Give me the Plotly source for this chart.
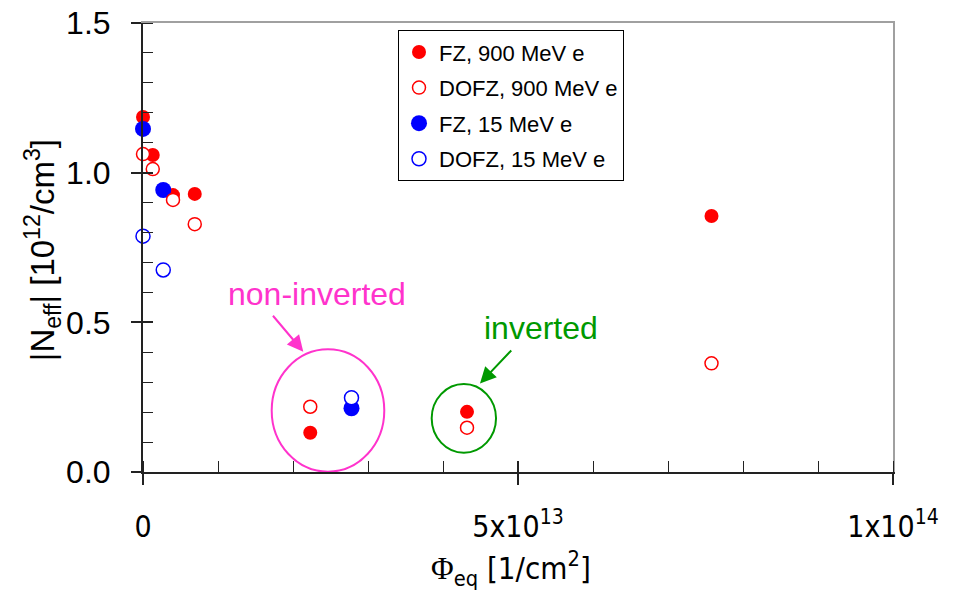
import plotly.graph_objects as go

# Fluence (1/cm^2) and |Neff| (1e12/cm^3) for each material / beam
fz900_phi = [0, 1.3e12, 4.0e12, 6.9e12, 2.23e13, 4.32e13, 7.58e13]
fz900_neff = [1.186, 1.059, 0.925, 0.929, 0.131, 0.201, 0.855]

dofz900_phi = [0, 1.3e12, 4.0e12, 6.9e12, 2.23e13, 4.32e13, 7.58e13]
dofz900_neff = [1.062, 1.012, 0.909, 0.828, 0.218, 0.148, 0.363]

fz15_phi = [0, 2.7e12, 2.78e13]
fz15_neff = [1.146, 0.942, 0.213]

dofz15_phi = [0, 2.7e12, 2.78e13]
dofz15_neff = [0.788, 0.675, 0.248]

x_tickvals = [0, 5e13, 1e14]
x_ticktext = ["0", "5x10<sup>13</sup>", "1x10<sup>14</sup>"]
y_tickvals = [0, 0.5, 1.0, 1.5]
y_ticktext = ["0.0", "0.5", "1.0", "1.5"]

RED = "#ff0000"
BLUE = "#0000ff"
PINK = "#ff33cc"
GREEN = "#009900"
NARROW = "Liberation Sans Narrow, DejaVu Sans Condensed, Liberation Sans, sans-serif"
SANS = "Liberation Sans, Arial, sans-serif"

fig = go.Figure()


def add_series(name, xs, ys, color, size, filled, rank):
    marker = dict(size=size, color=color if filled else "white",
                  line=dict(color=color, width=0 if filled else 1.5))
    fig.add_trace(go.Scatter(
        x=xs, y=ys, mode="markers", name=name, marker=marker,
        cliponaxis=False, legendrank=rank, legendgroup=name,
    ))


# drawing order: filled first, open (white-filled) markers on top
add_series("FZ, 900 MeV e", fz900_phi, fz900_neff, RED, 14, True, 1)
add_series("FZ, 15 MeV e", fz15_phi, fz15_neff, BLUE, 16, True, 3)
add_series("DOFZ, 900 MeV e", dofz900_phi, dofz900_neff, RED, 13, False, 2)
add_series("DOFZ, 15 MeV e", dofz15_phi, dofz15_neff, BLUE, 14, False, 4)

# helper traces so the overlay axes (frame and crossing ticks) are drawn
for xa, ya in (("x2", "y2"), ("x3", "y3")):
    fig.add_trace(go.Scatter(x=[None], y=[None], xaxis=xa, yaxis=ya,
                             showlegend=False, hoverinfo="skip"))

X_RANGE = [0, 1e14]
Y_RANGE = [0, 1.5]

fig.update_layout(
    width=955, height=593,
    margin=dict(l=143, r=62, t=23, b=121, autoexpand=False),
    paper_bgcolor="white", plot_bgcolor="white",
    showlegend=True,
    legend=dict(
        x=0.34, y=0.984, xanchor="left", yanchor="top",
        bordercolor="black", borderwidth=1, bgcolor="white",
        font=dict(family=SANS, size=22, color="black"),
        tracegroupgap=4, itemsizing="trace", itemwidth=30,
    ),
    xaxis=dict(
        range=X_RANGE, showgrid=False, zeroline=False, automargin=False,
        showline=True, linecolor="#222", linewidth=2,
        tickmode="array", tickvals=x_tickvals, ticktext=x_ticktext,
        ticks="outside", ticklen=11, tickwidth=1.5, tickcolor="#222",
        ticklabelstandoff=16,
        tickfont=dict(family=NARROW, size=30, color="black"),
        minor=dict(ticks="inside", dtick=1e13, tick0=0, ticklen=11,
                   tickwidth=1.2, tickcolor="#222"),
    ),
    yaxis=dict(
        range=Y_RANGE, showgrid=False, zeroline=False, automargin=False,
        showline=True, linecolor="#222", linewidth=2,
        tickmode="array", tickvals=y_tickvals, ticktext=y_ticktext,
        ticks="outside", ticklen=10, tickwidth=1.5, tickcolor="#222",
        ticklabelstandoff=14,
        tickfont=dict(family=SANS, size=32, color="black"),
        minor=dict(ticks="inside", dtick=0.1, tick0=0, ticklen=10,
                   tickwidth=1.2, tickcolor="#222"),
    ),
    # grey frame on top and right
    xaxis2=dict(range=X_RANGE, overlaying="x", side="top", anchor="y2",
                automargin=False,
                showline=True, linecolor="#a0a0a0", linewidth=2,
                showgrid=False, zeroline=False, ticks="", showticklabels=False),
    yaxis2=dict(range=Y_RANGE, overlaying="y", side="right", anchor="x2",
                automargin=False,
                showline=True, linecolor="#a0a0a0", linewidth=2,
                showgrid=False, zeroline=False, ticks="", showticklabels=False),
    # inner halves of the major ticks
    xaxis3=dict(range=X_RANGE, overlaying="x", side="bottom", anchor="y3",
                automargin=False,
                showline=False, showgrid=False, zeroline=False,
                tickmode="array", tickvals=x_tickvals, ticks="inside",
                ticklen=11, tickwidth=1.5, tickcolor="#222",
                showticklabels=False),
    yaxis3=dict(range=Y_RANGE, overlaying="y", side="left", anchor="x3",
                automargin=False,
                showline=False, showgrid=False, zeroline=False,
                tickmode="array", tickvals=y_tickvals, ticks="inside",
                ticklen=10, tickwidth=1.5, tickcolor="#222",
                showticklabels=False),
)

# regions marking non-inverted and inverted samples
fig.add_shape(type="circle", xref="x", yref="y",
              x0=1.716e13, x1=3.217e13, y0=0.001, y1=0.41,
              line=dict(color=PINK, width=2))
fig.add_shape(type="circle", xref="x", yref="y",
              x0=3.849e13, x1=4.707e13, y0=0.0645, y1=0.294,
              line=dict(color=GREEN, width=2))

# arrows pointing at the regions
fig.add_annotation(x=2.137e13, y=0.402, ax=1.716e13, ay=0.527,
                   xref="x", yref="y", axref="x", ayref="y", text="",
                   showarrow=True, arrowhead=2, arrowsize=1.6,
                   arrowwidth=2, arrowcolor=PINK)
fig.add_annotation(x=4.493e13, y=0.296, ax=4.929e13, ay=0.411,
                   xref="x", yref="y", axref="x", ayref="y", text="",
                   showarrow=True, arrowhead=2, arrowsize=1.6,
                   arrowwidth=2, arrowcolor=GREEN)

fig.add_annotation(x=2.32e13, y=0.595, xref="x", yref="y",
                   text="non-inverted", showarrow=False,
                   font=dict(family=SANS, size=32, color=PINK))
fig.add_annotation(x=5.307e13, y=0.481, xref="x", yref="y",
                   text="inverted", showarrow=False,
                   font=dict(family=SANS, size=32, color=GREEN))

# axis titles
fig.add_annotation(xref="paper", yref="paper", x=0, y=0.494,
                   xshift=-101, textangle=-90, showarrow=False,
                   xanchor="center", yanchor="middle",
                   text="|N<sub>eff</sub>| [10<sup>12</sup>/cm<sup>3</sup>]",
                   font=dict(family=SANS, size=33, color="black"))
fig.add_annotation(xref="paper", yref="paper", x=0.49, y=0,
                   yshift=-96, showarrow=False,
                   xanchor="center", yanchor="middle",
                   text="<span style=\"font-family:'Liberation Serif'\">Φ</span>"
                        "<sub>eq</sub> [1/cm<sup>2</sup>]",
                   font=dict(family=NARROW, size=31, color="black"))

fig.write_html("out.html")
